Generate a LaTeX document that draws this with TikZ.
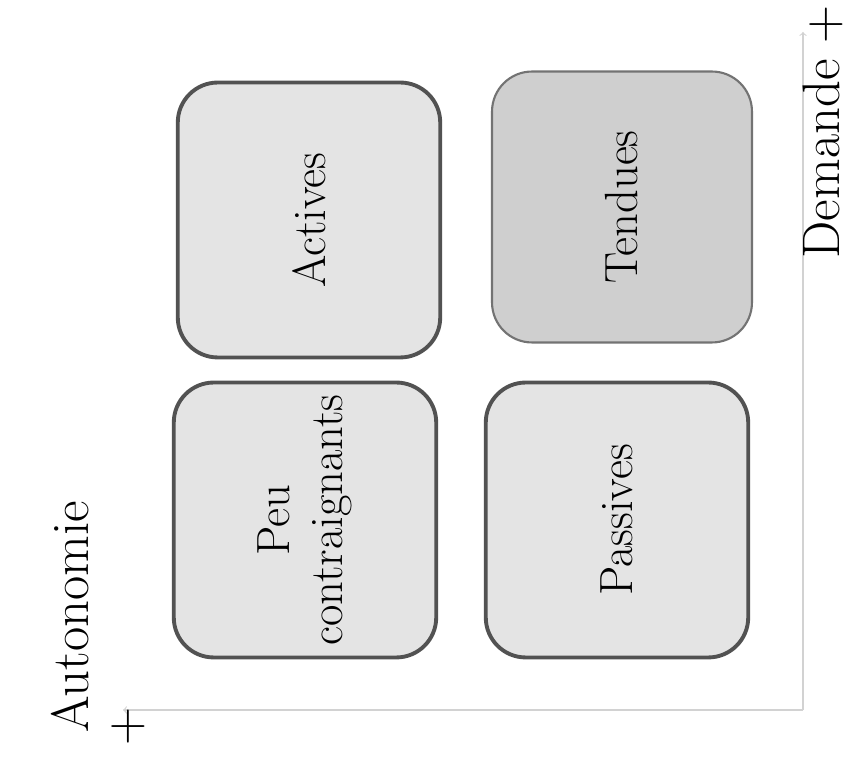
\documentclass[tikz,border=0pt]{standalone}
\usepackage{amsmath}
\usepackage{tikz}
\definecolor{boxfill}{HTML}{E4E4E4}
\definecolor{tenfill}{HTML}{CFCFCF}
\definecolor{axisgray}{HTML}{D2D2D2}

\begin{document}
\begin{tikzpicture}[x=0.02cm,y=-0.02cm,
  quad/.style={draw=black!68,line width=2.2pt,fill=boxfill,rounded corners=0.8cm,
    rotate=90,minimum width=5.5cm,minimum height=5.25cm,align=center,
    font=\fontsize{26.5}{30}\selectfont},
  axislabel/.style={rotate=90,inner sep=0pt,font=\fontsize{30}{30}\selectfont}]
\useasboundingbox (0,0) rectangle (850,759);
% The axes
\coordinate (origin) at (803,710);
\coordinate (demtop) at (803,32);
\coordinate (autleft) at (123,710);
\draw[->,color=axisgray,line width=0.6pt] (origin) -- (demtop);
\draw[->,color=axisgray,line width=0.6pt] (origin) -- (autleft);
\node[axislabel] (demande) at (823,132) {Demande +};
\node[axislabel,align=left] (autonomie) at (98,617) {Autonomie\\\hspace*{-0.25em}+};
% The four boxes
\node[quad] (actives) at (309,220) {Actives};
\node[quad,fill=tenfill,draw=black!55,line width=1.2pt,
  minimum width=5.42cm,minimum height=5.2cm] (tendues) at (622,207) {Tendues};
\node[quad] (peu) at (305,520) {Peu\\contraignants};
\node[quad] (passives) at (617,520) {Passives};
\end{tikzpicture}
\end{document}
